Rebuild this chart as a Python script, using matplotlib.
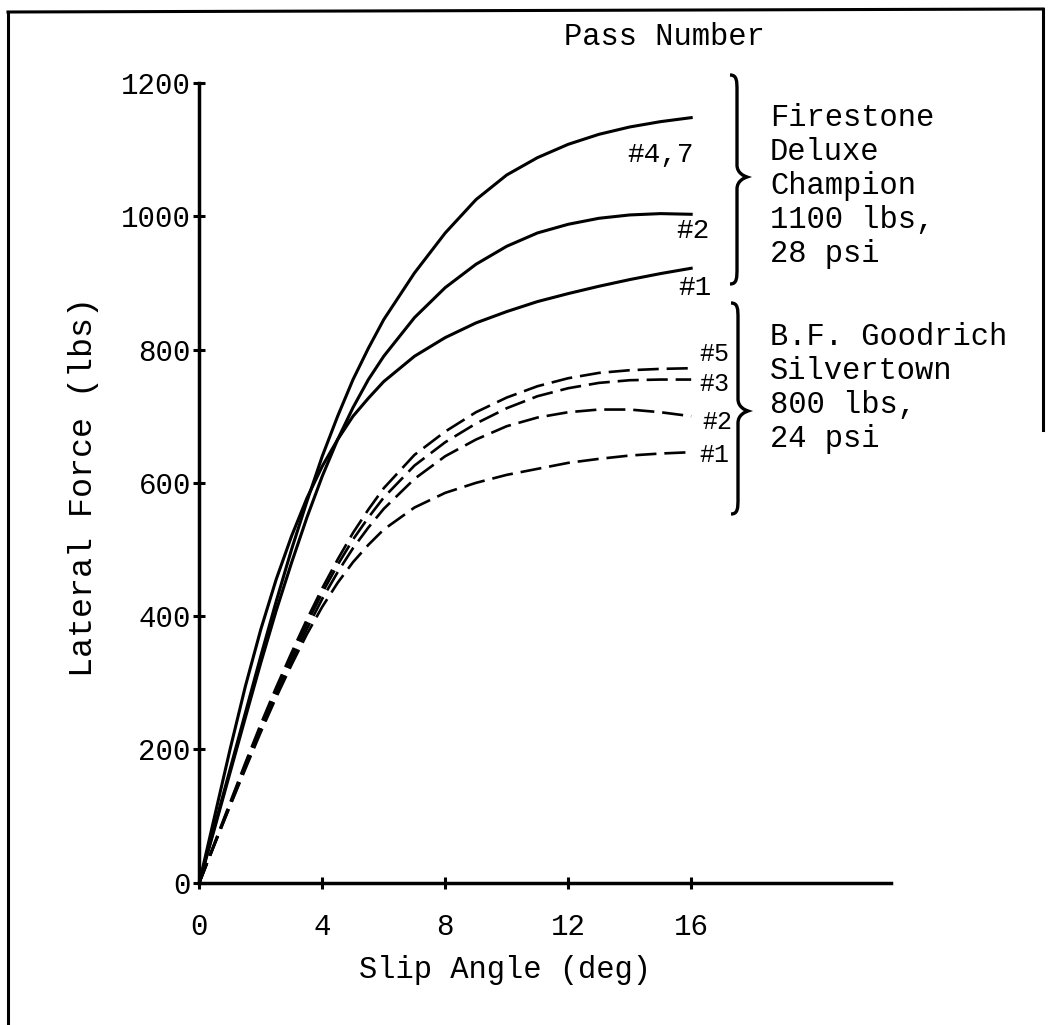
import matplotlib
matplotlib.use('Agg')
import matplotlib.pyplot as plt
from matplotlib.path import Path
from matplotlib.patches import PathPatch
from matplotlib.lines import Line2D

plt.rcParams['font.family'] = ['Liberation Mono', 'DejaVu Sans Mono']

# slip angle (deg) and lateral force (lbs)
slip = [0, 0.5, 1, 1.5, 2, 2.5, 3, 3.5, 4, 4.5, 5, 5.5, 6, 7, 8, 9, 10, 11, 12, 13, 14, 15, 16]

# Firestone Deluxe Champion, 1100 lbs, 28 psi (solid)
fs_pass47 = [0, 85, 170, 255, 340, 422, 500, 572, 640, 700, 755, 802, 845,
             915, 975, 1025, 1062, 1088, 1108, 1123, 1134, 1142, 1148]
fs_pass2 = [0, 82, 165, 248, 330, 408, 480, 548, 610, 665, 713, 755, 790,
            848, 893, 928, 955, 975, 988, 997, 1002, 1004, 1003]
fs_pass1 = [0, 100, 200, 295, 380, 455, 520, 577, 625, 665, 700, 727, 752,
            790, 818, 840, 857, 872, 884, 895, 905, 914, 922]

# B.F. Goodrich Silvertown, 800 lbs, 24 psi (dashed)
bf_pass5 = [0, 60, 120, 180, 238, 293, 345, 395, 442, 485, 525, 560, 592,
            642, 677, 706, 728, 745, 757, 765, 769, 771, 772]
bf_pass3 = [0, 59, 118, 177, 234, 288, 340, 389, 435, 477, 515, 548, 578,
            626, 661, 689, 712, 730, 742, 750, 754, 755, 755]
bf_pass2 = [0, 58, 116, 173, 229, 282, 333, 381, 426, 466, 502, 533, 561,
            606, 640, 665, 685, 698, 706, 710, 710, 706, 700]
bf_pass1 = [0, 58, 115, 171, 226, 278, 327, 373, 414, 450, 481, 507, 530,
            563, 585, 600, 612, 621, 630, 636, 641, 644, 646]

x_ticks = [0, 4, 8, 12, 16]
y_ticks = [0, 200, 400, 600, 800, 1000, 1200]

W, H = 1049, 1025
fig = plt.figure(figsize=(W / 100, H / 100), dpi=100)
ax = fig.add_axes([199.3 / W, 1 - 882.7 / H, 691.7 / W, 799.7 / H])

solid = [(fs_pass47, '#4,7', (-22, -27)),
         (fs_pass2, '#2', (1, -12)),
         (fs_pass1, '#1', (3, -14))]
dashed = [(bf_pass5, '#5', (17, 10)),
          (bf_pass3, '#3', (17, -3)),
          (bf_pass2, '#2', (19, -4)),
          (bf_pass1, '#1', (17, -2))]

for vals, lab, off in solid:
    ax.plot(slip, vals, color='black', lw=2.2, clip_on=False)
    ax.annotate(lab, xy=(slip[-1], vals[-1]), xytext=off, textcoords='offset points',
                ha='center', va='center', fontsize=20)

for vals, lab, off in dashed:
    ax.plot(slip, vals, color='black', lw=1.9, dashes=(8, 3), clip_on=False)
    ax.annotate(lab, xy=(slip[-1], vals[-1]), xytext=off, textcoords='offset points',
                ha='center', va='center', fontsize=18)

ax.set_xlim(0, 22.5)
ax.set_ylim(0, 1200)
ax.set_xticks(x_ticks)
ax.set_yticks(y_ticks)
for s in ['top', 'right']:
    ax.spines[s].set_visible(False)
for s in ['left', 'bottom']:
    ax.spines[s].set_linewidth(2.5)
ax.tick_params(direction='inout', length=8, width=2.2, labelsize=21)
ax.tick_params(axis='x', pad=18)
ax.tick_params(axis='y', pad=2)

fig.text(505 / W, 1 - 970 / H, 'Slip Angle (deg)', ha='center', va='center', fontsize=22)
fig.text(84 / W, 1 - 487 / H, 'Lateral Force (lbs)', ha='center', va='center',
         rotation=90, fontsize=24)
fig.text(664 / W, 1 - 37 / H, 'Pass Number', ha='center', va='center', fontsize=22)


def brace(x0, yt, ym, yb):
    # curly brace opening to the left, pixel coords (y down)
    a, b, c = x0, x0 + 7, x0 + 17
    pts = [(a, yt), (b, yt), (b, yt + 6), (b, yt + 16),
           (b, ym - 12),
           (b, ym - 4), (c - 3, ym - 1), (c, ym),
           (c - 3, ym + 1), (b, ym + 4), (b, ym + 12),
           (b, yb - 16),
           (b, yb - 6), (b, yb), (a, yb)]
    codes = [Path.MOVETO, Path.CURVE4, Path.CURVE4, Path.CURVE4,
             Path.LINETO,
             Path.CURVE4, Path.CURVE4, Path.CURVE4,
             Path.CURVE4, Path.CURVE4, Path.CURVE4,
             Path.LINETO,
             Path.CURVE4, Path.CURVE4, Path.CURVE4]
    verts = [(px / W, 1 - py / H) for px, py in pts]
    fig.add_artist(PathPatch(Path(verts, codes), fill=False, lw=2.4, ec='black',
                             transform=fig.transFigure))


brace(730, 75, 177, 284)
brace(731, 303, 411, 514)

firestone = ['Firestone', 'Deluxe', 'Champion', '1100 lbs,', '28 psi']
goodrich = ['B.F. Goodrich', 'Silvertown', '800 lbs,', '24 psi']
for i, line in enumerate(firestone):
    fig.text(770 / W, 1 - (118 + 34 * i) / H, line, ha='left', va='center', fontsize=22)
for i, line in enumerate(goodrich):
    fig.text(770 / W, 1 - (337 + 34 * i) / H, line, ha='left', va='center', fontsize=22)

# scanned page frame
fig.add_artist(Line2D([8 / W, 8 / W], [0, 1 - 12 / H], color='black', lw=2.2))
fig.add_artist(Line2D([8 / W, 1043 / W], [1 - 12 / H, 1 - 9 / H], color='black', lw=2.2))
fig.add_artist(Line2D([1043 / W, 1043 / W], [1 - 9 / H, 1 - 430 / H], color='black', lw=2.2))

fig.savefig('out.png', dpi=100)
